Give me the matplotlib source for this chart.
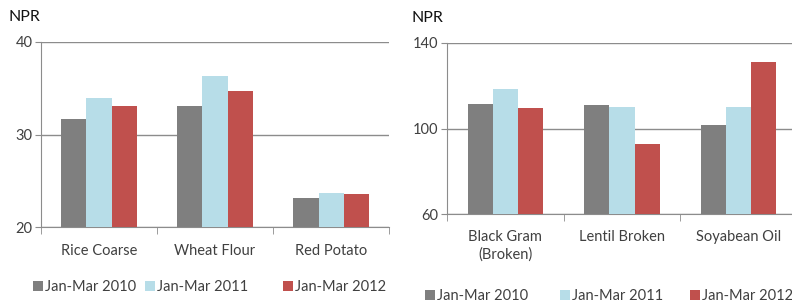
import numpy as np
import matplotlib
matplotlib.use('Agg')
import matplotlib.pyplot as plt
from matplotlib.patches import Patch

plt.rcParams['font.family'] = ['Lato', 'DejaVu Sans']

series = ['Jan-Mar 2010', 'Jan-Mar 2011', 'Jan-Mar 2012']
colors = ['#7f7f7f', '#b7dde8', '#c0504d']

left_cats = ['Rice Coarse', 'Wheat Flour', 'Red Potato']
left_2010 = [31.7, 33.1, 23.1]
left_2011 = [33.9, 36.3, 23.7]
left_2012 = [33.1, 34.7, 23.6]

right_cats = ['Black Gram\n(Broken)', 'Lentil Broken', 'Soyabean Oil']
right_2010 = [111.6, 111.0, 101.8]
right_2011 = [118.6, 110.0, 110.0]
right_2012 = [109.4, 92.6, 130.9]

W, H = 792, 303
fig = plt.figure(figsize=(7.92, 3.03), dpi=100)
ax1 = fig.add_axes([0.0518, 0.2508, 0.4394, 0.6106])
ax2 = fig.add_axes([0.5644, 0.2927, 0.4419, 0.5663])

text_col = '#404040'
line_col = '#8c8c8c'
w = 0.216


def draw(ax, cats, vals, ylim, yticks, pad):
    x = np.arange(len(cats))
    for i, v in enumerate(vals):
        ax.bar(x + (i - 1) * w, v, w, color=colors[i], zorder=3)
    ax.set_xlim(-0.5, len(cats) - 0.5)
    ax.set_ylim(*ylim)
    ax.set_yticks(yticks)
    ax.set_xticks(x)
    ax.set_xticklabels(cats, fontsize=10.5, color=text_col, linespacing=1.35)
    ax.set_xticks(np.arange(-0.5, len(cats)), minor=True)
    ax.tick_params(axis='x', which='major', length=0, pad=pad)
    ax.tick_params(axis='x', which='minor', length=5, direction='out', color=line_col)
    ax.tick_params(axis='y', length=4, direction='out', color=line_col,
                   labelsize=10.5, labelcolor=text_col, pad=2)
    ax.yaxis.grid(True, color=line_col, linewidth=1, zorder=0)
    for s in ['top', 'right']:
        ax.spines[s].set_visible(False)
    for s in ['left', 'bottom']:
        ax.spines[s].set_color(line_col)


draw(ax1, left_cats, [left_2010, left_2011, left_2012], (20, 40), [20, 30, 40], 12)
draw(ax2, right_cats, [right_2010, right_2011, right_2012], (60, 140), [60, 100, 140], 11)

fig.text(0.011, 0.945, 'NPR', fontsize=11.5, color='#111111', va='center')
fig.text(0.519, 0.940, 'NPR', fontsize=11.5, color='#111111', va='center')

# legend entries: (x of square in px, y centre in px, font size)
left_leg = [33, 145, 283]
right_leg = [425, 560, 690]
for xs, yc, fs in [(left_leg, 287, 10.5), (right_leg, 296, 10.5)]:
    for lab, c, xp in zip(series, colors, xs):
        fig.legend([Patch(facecolor=c, edgecolor='none')], [lab],
                   loc='center left', bbox_to_anchor=(xp / W, 1 - yc / H),
                   frameon=False, fontsize=fs, handlelength=0.7,
                   handleheight=0.7, handletextpad=0.15,
                   labelcolor=text_col, borderpad=0, borderaxespad=0)

fig.savefig('out.png', dpi=100)
